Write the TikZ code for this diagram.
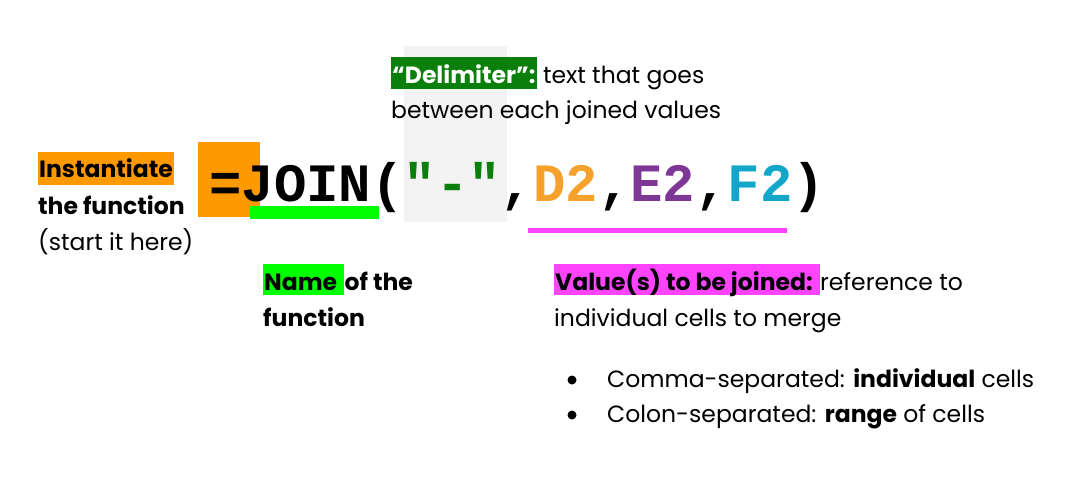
\documentclass[tikz,border=0pt]{standalone}
\usepackage{fontspec}
\setmainfont{Poppins}
\newfontfamily\monofont{Liberation Mono}
\definecolor{hlorange}{HTML}{FF9900}
\definecolor{hlgreen}{HTML}{00FF00}
\definecolor{hlpink}{HTML}{FF44FF}
\definecolor{delimgreen}{HTML}{0B7F0B}
\definecolor{lightgray}{HTML}{F3F3F3}
\definecolor{cD}{HTML}{F6A12C}
\definecolor{cE}{HTML}{7E3794}
\definecolor{cF}{HTML}{12A6C9}
\tikzset{
  txt/.style={anchor=base west, inner sep=0pt, font=\fontsize{23.5}{28}\selectfont},
  hl/.style={txt, inner xsep=1pt, text height=#1},
  code/.style={anchor=base west, inner sep=0pt, font=\monofont\bfseries\fontsize{54}{60}\selectfont},
}
\begin{document}
\begin{tikzpicture}[x=1pt,y=-1pt]
\useasboundingbox (0,0) rectangle (1066,491);
% background highlights
\fill[lightgray] (404,46) rectangle (507,222);
\fill[hlorange] (198,142) rectangle (260,217);
\fill[hlgreen] (250,206) rectangle (379,219);
\fill[hlpink] (528,228) rectangle (787,233);
% formula
\node[code] (formula) at (209,201) {=JOIN(\textcolor{delimgreen}{"-"},\textcolor{cD}{D2},\textcolor{cE}{E2},\textcolor{cF}{F2})};
% delimiter label
\node[hl=26pt, text depth=6pt, fill=delimgreen, text=white] (delimhl) at (391,83) {\textbf{“Delimiter”:}};
\node[txt] (delim1) at ([xshift=6pt]delimhl.base east) {text that goes};
\node[txt] (delim2) at (391,118) {between each joined values};
% instantiate
\node[hl=25pt, text depth=8pt, fill=hlorange] (inst1) at (38,177) {\textbf{Instantiate}};
\node[txt] (inst2) at (38,214) {\textbf{the function}};
\node[txt] (inst3) at (38,250) {(start it here)};
% name
\node[hl=26pt, text depth=5pt, fill=hlgreen] (namehl) at (263,290) {\textbf{Name}\kern6pt};
\node[txt] (name1) at (namehl.base east) {\textbf{of the}};
\node[txt] (name2) at (263,326) {\textbf{function}};
% values
\node[hl=26pt, text depth=5pt, fill=hlpink] (valhl) at (554,290) {\textbf{Value(s) to be joined:}\kern6pt};
\node[txt] (val1) at (valhl.base east) {reference to};
\node[txt] (val2) at (554,326) {individual cells to merge};
\fill (572,380) circle (4.5);
\fill (572,415) circle (4.5);
\node[txt] (b1) at (607,387) {Comma-separated: \textbf{individual} cells};
\node[txt] (b2) at (607,422) {Colon-separated: \textbf{range} of cells};
\end{tikzpicture}
\end{document}
